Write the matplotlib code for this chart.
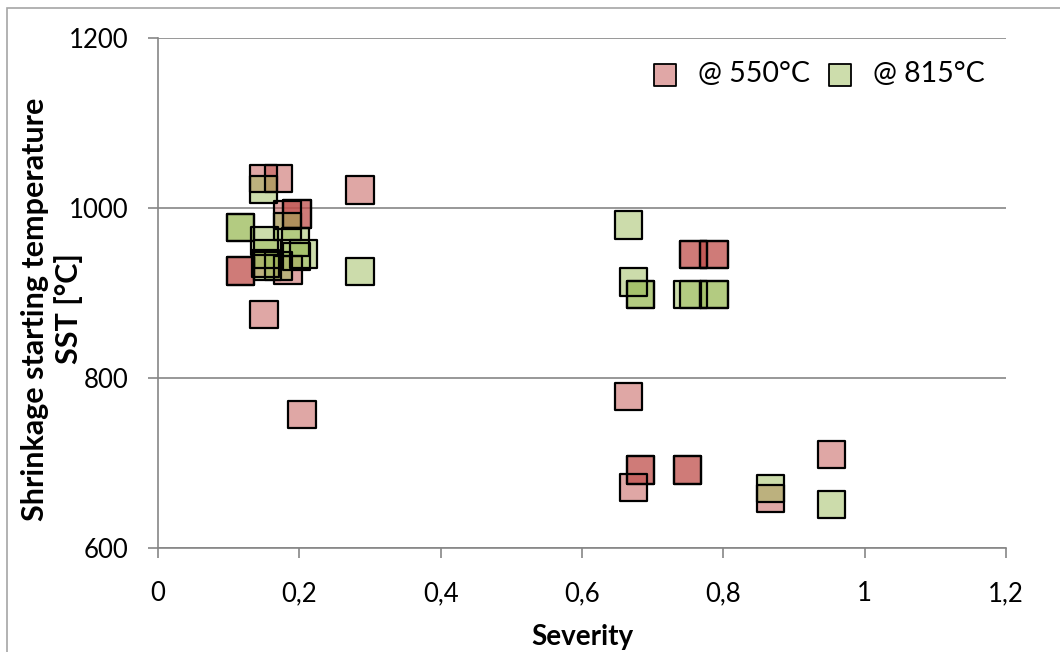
import matplotlib
matplotlib.use('Agg')
import matplotlib.pyplot as plt
from matplotlib.patches import Rectangle

plt.rcParams['font.family'] = ['Lato', 'DejaVu Sans']

# severity / SST readings, @ 550 C (repeated points sit on top of each other)
sev_550 = [0.149, 0.171, 0.183, 0.197, 0.197, 0.117, 0.117, 0.184, 0.152,
           0.150, 0.204, 0.286, 0.758, 0.758, 0.787, 0.787, 0.666,
           0.683, 0.683, 0.673, 0.749, 0.749, 0.867, 0.953]
sst_550 = [1035, 1035, 992, 993, 993, 926, 926, 927, 935,
           875, 757, 1021, 945, 945, 945, 945, 778,
           692, 692, 671, 692, 692, 658, 710]

# @ 815 C
sev_815 = [0.149, 0.183, 0.117, 0.117, 0.151, 0.195, 0.206, 0.196, 0.171,
           0.155, 0.155, 0.286, 0.666, 0.673, 0.683, 0.683, 0.749,
           0.758, 0.787, 0.787, 0.867, 0.953]
sst_815 = [1022, 978, 977, 977, 961, 960, 946, 943, 932,
           946, 932, 925, 980, 913, 898, 898, 898,
           898, 898, 898, 670, 651]

fig = plt.figure(figsize=(10.6, 6.52), dpi=100)
ax = fig.add_axes([0.149, 0.1595, 0.8, 0.7822])

# chart border (Excel style, left/top visible)
fig.patches.append(Rectangle((7 / 1060, -0.05), 1.2, 1 - 8 / 652 + 0.05,
                             transform=fig.transFigure, fill=False,
                             edgecolor='#a6a6a6', linewidth=1.2))

ax.scatter(sev_550, sst_550, marker='s', s=390, color='#C0504D', alpha=0.5,
           edgecolors='none', zorder=3)
ax.scatter(sev_550, sst_550, marker='s', s=390, facecolors='none',
           edgecolors='black', linewidths=1.6, zorder=4)
ax.scatter(sev_815, sst_815, marker='s', s=390, color='#9BBB59', alpha=0.5,
           edgecolors='none', zorder=3)
ax.scatter(sev_815, sst_815, marker='s', s=390, facecolors='none',
           edgecolors='black', linewidths=1.6, zorder=4)

# legend proxies
h1 = ax.scatter([], [], marker='s', s=260, facecolors='#E0A7A6',
                edgecolors='black', linewidths=1.3)
h2 = ax.scatter([], [], marker='s', s=260, facecolors='#CDDDAC',
                edgecolors='black', linewidths=1.3)
ax.legend([h1, h2], ['@ 550°C', '@ 815°C'], loc='upper right',
          bbox_to_anchor=(1.005, 1.005), ncol=2, frameon=False, fontsize=20.5,
          handletextpad=0.55, columnspacing=0.45, handlelength=1.2)

ax.set_xlim(0, 1.2)
ax.set_ylim(600, 1200)
ax.set_xticks([0, 0.2, 0.4, 0.6, 0.8, 1.0, 1.2])
ax.set_xticklabels(['0', '0,2', '0,4', '0,6', '0,8', '1', '1,2'])
ax.set_yticks([600, 800, 1000, 1200])
ax.tick_params(axis='both', labelsize=18.5, length=7, color='#868686',
               width=1.2)
ax.tick_params(axis='y', pad=14)
ax.tick_params(axis='x', pad=17)
ax.yaxis.grid(True, color='#868686', linewidth=1.2)
ax.set_axisbelow(True)
for side in ['top', 'right']:
    ax.spines[side].set_visible(False)
for side in ['left', 'bottom']:
    ax.spines[side].set_color('#868686')
    ax.spines[side].set_linewidth(1.2)

ax.set_xlabel('Severity', fontsize=20, fontweight='bold', labelpad=13)

# two-line y title, one text per line
ax.text(-0.145, 0.469, 'Shrinkage starting temperature', transform=ax.transAxes,
        rotation=90, ha='center', va='center', fontsize=22, fontweight='bold')
ax.text(-0.106, 0.469, 'SST [°C]', transform=ax.transAxes,
        rotation=90, ha='center', va='center', fontsize=22, fontweight='bold')

fig.savefig('out.png', dpi=100)
